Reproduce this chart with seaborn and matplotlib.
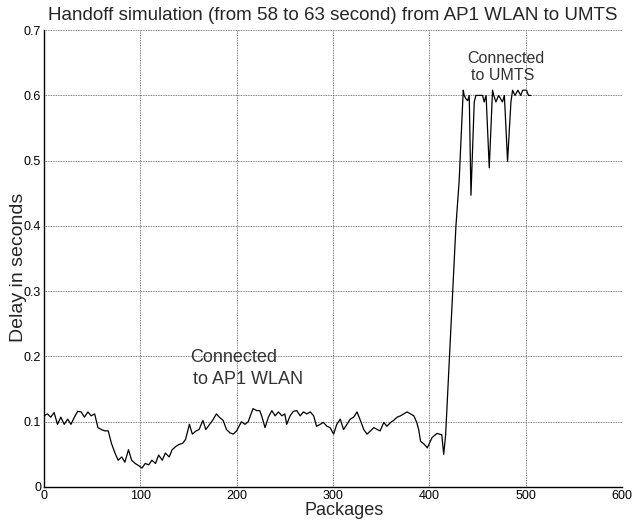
import numpy as np
import pandas as pd
import matplotlib
matplotlib.use("Agg")
import matplotlib.pyplot as plt
import seaborn as sns

# packet index and delay values
packages = [
    0, 3.5, 7, 10.5, 14, 17.5, 21, 24.6, 28, 31.6, 35, 38.6, 42, 45.6, 49, 52.6,
    56, 59.6, 63, 66.7, 70, 73.7, 77, 80.7, 84, 87.7, 91, 94.7, 98, 101.8, 105,
    108.8, 112, 115.8, 119, 122.8, 126, 130, 133, 136.8, 140, 144, 147, 151, 154,
    158, 161, 165, 168, 172, 175, 179, 182, 186, 189.5, 193, 196.5, 200, 205,
    208.7, 212, 217, 221, 224, 226, 229.5, 233, 236.5, 240, 243.4, 247, 250, 252,
    255.5, 259, 262.5, 266, 269.4, 273, 276.4, 280, 283, 286.8, 290, 293.8, 297,
    300.7, 304, 307.6, 311, 314.6, 318, 321.5, 325, 328.5, 332, 335.4, 339, 342.4,
    346, 349, 352.8, 356, 360, 363, 366.7, 370, 373.6, 377, 380.5, 384, 387, 389,
    391, 394.4, 398, 403, 408, 413, 415, 417, 427.7, 431, 435.3, 436.3, 438,
    439.8, 441.5, 443.3, 446.7, 448.4, 452, 455.4, 457, 459, 462.3, 465.7, 467,
    469.2, 472, 476, 478, 481.3, 484.8, 486.5, 489, 492, 495, 497, 501, 503, 505.5,
]
delay = [
    0.109, 0.112, 0.107, 0.114, 0.096, 0.107, 0.096, 0.104, 0.096, 0.107, 0.116,
    0.115, 0.107, 0.115, 0.109, 0.112, 0.091, 0.088, 0.086, 0.086, 0.067, 0.052,
    0.041, 0.046, 0.038, 0.057, 0.041, 0.036, 0.033, 0.029, 0.036, 0.034, 0.041,
    0.036, 0.049, 0.041, 0.052, 0.046, 0.057, 0.062, 0.065, 0.067, 0.073, 0.096,
    0.081, 0.086, 0.088, 0.102, 0.088, 0.096, 0.102, 0.112, 0.107, 0.102, 0.088,
    0.083, 0.081, 0.086, 0.100, 0.096, 0.100, 0.120, 0.117, 0.117, 0.109, 0.091,
    0.107, 0.117, 0.109, 0.115, 0.109, 0.112, 0.096, 0.109, 0.116, 0.117, 0.109,
    0.115, 0.112, 0.115, 0.109, 0.093, 0.096, 0.099, 0.093, 0.091, 0.081, 0.096,
    0.104, 0.088, 0.096, 0.104, 0.107, 0.115, 0.102, 0.088, 0.081, 0.086, 0.091,
    0.088, 0.086, 0.099, 0.093, 0.099, 0.102, 0.107, 0.109, 0.112, 0.115, 0.112,
    0.109, 0.099, 0.088, 0.070, 0.066, 0.060, 0.076, 0.082, 0.080, 0.050, 0.080,
    0.400, 0.468, 0.608, 0.600, 0.595, 0.592, 0.600, 0.447, 0.590, 0.600, 0.600,
    0.600, 0.590, 0.600, 0.489, 0.608, 0.600, 0.590, 0.600, 0.590, 0.600, 0.499,
    0.590, 0.608, 0.600, 0.608, 0.600, 0.608, 0.608, 0.600, 0.600,
]

x_ticks = [0, 100, 200, 300, 400, 500, 600]
y_ticks = [0, 0.1, 0.2, 0.3, 0.4, 0.5, 0.6, 0.7]
y_tick_labels = ["0", "0.1", "0.2", "0.3", "0.4", "0.5", "0.6", "0.7"]

df = pd.DataFrame({"Packages": packages, "Delay": delay})

sns.set_theme(style="white")
plt.rcParams["font.family"] = ["Liberation Sans", "DejaVu Sans"]

fig = plt.figure(figsize=(6.32, 5.2), dpi=100)
ax = fig.add_axes([0.0696, 0.0635, 0.9144, 0.8785])

sns.lineplot(
    data=df, x="Packages", y="Delay",
    color="black", linewidth=0.9,
    sort=False, estimator=None, ax=ax
)

ax.set_xlim(0, 600)
ax.set_ylim(0, 0.7)
ax.set_xticks(x_ticks)
ax.set_xticklabels([str(t) for t in x_ticks])
ax.set_yticks(y_ticks)
ax.set_yticklabels(y_tick_labels)
ax.tick_params(direction="in", length=3, width=0.8, labelsize=9,
               colors="black", pad=2)

ax.grid(True, linestyle=(0, (1, 1)), color="#555555", linewidth=0.6)
for s in ["top", "right"]:
    ax.spines[s].set_visible(False)
for s in ["left", "bottom"]:
    ax.spines[s].set_color("black")
    ax.spines[s].set_linewidth(1.0)

# labels sit close to the axis like the original, y label overlaps tick text
ax.set_xlabel("Packages", fontsize=13)
ax.xaxis.set_label_coords(0.52, -0.032)
ax.set_ylabel("Delay in seconds", fontsize=14)
ax.yaxis.set_label_coords(-0.029, 0.48)

ax.set_title("Handoff simulation (from 58 to 63 second) from AP1 WLAN to UMTS",
             fontsize=13.5, pad=7)

ax.text(151.5, 0.199, "Connected", fontsize=13, va="center", ha="left", color="#333333")
ax.text(155, 0.164, "to AP1 WLAN", fontsize=13, va="center", ha="left", color="#333333")
ax.text(439, 0.657, "Connected", fontsize=11.5, va="center", ha="left", color="#333333")
ax.text(443, 0.631, "to UMTS", fontsize=11.5, va="center", ha="left", color="#333333")

fig.savefig("out.png", dpi=100)
